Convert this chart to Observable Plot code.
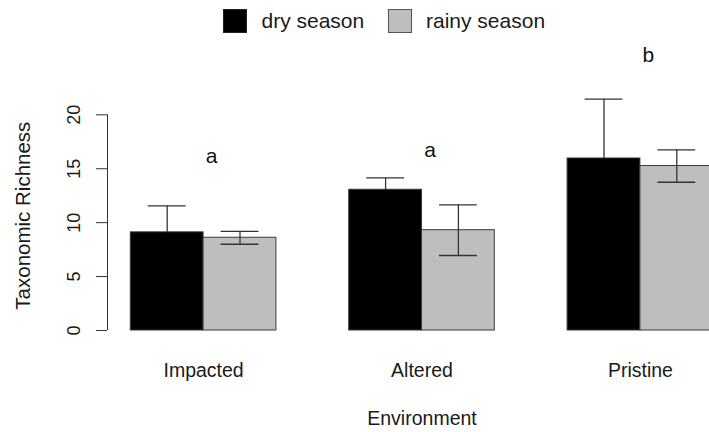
<!DOCTYPE html>
<html><head><meta charset="utf-8">
<script src="https://cdn.jsdelivr.net/npm/d3@7"></script>
<script src="https://cdn.jsdelivr.net/npm/@observablehq/plot@0.6"></script>
<style>
html,body{margin:0;padding:0;background:#fff;overflow:hidden;}
#wrap{width:709px;height:432px;overflow:hidden;position:relative;font-family:"Liberation Sans",Arial,sans-serif;color:#1a1a1a;}
#legend{position:relative;height:44px;}
.sw{position:absolute;top:9px;width:24px;height:24px;box-sizing:border-box;}
.lt{position:absolute;top:9px;font-size:21px;line-height:normal;white-space:nowrap;}
#chart{width:736px;}
#chart svg{display:block;max-width:none !important;width:736px;height:388px;}
</style></head><body>
<div id="wrap"><div id="legend"></div><div id="chart"></div></div>
<script>
// ---- data ----
const environments = ["Impacted", "Altered", "Pristine"];
const seasons = ["dry season", "rainy season"];
const dryMeans = [9.1, 13.05, 15.95];
const dryErr = [2.45, 1.1, 5.5];
const rainyMeans = [8.6, 9.3, 15.25];
const rainyErr = [0.6, 2.35, 1.5];
const groupLetters = ["a", "a", "b"];
const letterHeights = [16.2, 16.7, 25.5];
const yTicks = [0, 5, 10, 15, 20];
const yTitle = "Taxonomic Richness";
const xTitle = "Environment";

// ---- styling / layout ----
const seasonFill = ["#000000", "#bebebe"];
const xLim = [0.68, 9.32];           // R barplot plot region (bars at 1..9, 4% extension)
const capHalf = 0.26;

// R barplot(beside=TRUE, space=c(0,1)) layout: each bar is one unit wide, one unit gap between groups
const rows = [];
environments.forEach((env, i) => {
  [dryMeans, rainyMeans].forEach((means, j) => {
    const x1 = 3 * i + 1 + j;
    rows.push({env, season: seasons[j], x1, x2: x1 + 1, mid: x1 + 0.5,
               mean: means[i], err: (j === 0 ? dryErr : rainyErr)[i]});
  });
});
const groupCenters = environments.map((_, i) => 3 * i + 2);
const letterRows = environments.map((env, i) => ({x: groupCenters[i], y: letterHeights[i], t: groupLetters[i]}));
const isDry = d => d.season === seasons[0];
const isRainy = d => d.season === seasons[1];

// legend
const legend = document.getElementById("legend");
legend.innerHTML =
  `<div class="sw" style="left:222.5px;background:${seasonFill[0]};border:1px solid #222"></div>` +
  `<div class="lt" style="left:261.5px">${seasons[0]}</div>` +
  `<div class="sw" style="left:388px;background:${seasonFill[1]};border:1px solid #555"></div>` +
  `<div class="lt" style="left:426px">${seasons[1]}</div>`;

const chart = Plot.plot({
  width: 736,
  height: 388,
  marginLeft: 107,
  marginRight: 0,
  marginTop: 70.3,
  marginBottom: 102,
  style: {fontFamily: "'Liberation Sans', Arial, sans-serif", color: "#1a1a1a", background: "white", maxWidth: "none"},
  x: {domain: xLim},
  y: {domain: [yTicks[0], yTicks[yTicks.length - 1]]},
  color: {domain: seasons, range: seasonFill},
  marks: [
    Plot.rectY(rows, {x1: "x1", x2: "x2", y1: 0, y2: "mean", fill: "season", stroke: "#3a3a3a", strokeWidth: 1}),
    // error bars (upper)
    Plot.ruleX(rows, {x: "mid", y1: "mean", y2: d => d.mean + d.err, stroke: "#333", strokeWidth: 1.3}),
    Plot.ruleY(rows, {y: d => d.mean + d.err, x1: d => d.mid - capHalf, x2: d => d.mid + capHalf, stroke: "#333", strokeWidth: 1.3}),
    // error bars (lower) — on dark bars drawn in black
    Plot.ruleX(rows, {filter: isRainy, x: "mid", y1: d => d.mean - d.err, y2: "mean", stroke: "#333", strokeWidth: 1.3}),
    Plot.ruleY(rows, {filter: isRainy, y: d => d.mean - d.err, x1: d => d.mid - capHalf, x2: d => d.mid + capHalf, stroke: "#333", strokeWidth: 1.6}),
    Plot.ruleX(rows, {filter: isDry, x: "mid", y1: d => d.mean - d.err, y2: "mean", stroke: "#000", strokeWidth: 1.3}),
    // significance letters
    Plot.text(letterRows, {x: "x", y: "y", text: "t", dx: 8, fontSize: 21, fill: "#111"}),
    // y axis (R style)
    Plot.ruleX([xLim[0]], {y1: yTicks[0], y2: yTicks[yTicks.length - 1], stroke: "#333"}),
    Plot.axisY({ticks: yTicks, tickSize: 11, tickRotate: -90, tickPadding: 17, fontSize: 18, stroke: "#333", label: null}),
    Plot.text([yTitle], {frameAnchor: "left", textAnchor: "middle", rotate: -90, dx: -84, dy: -7, fontSize: 20.5, fill: "#1a1a1a"}),
    Plot.axisX({ticks: groupCenters, tickFormat: d => environments[groupCenters.indexOf(d)], tickSize: 0,
                tickPadding: 33, fontSize: 19.5, label: null}),
    Plot.text([xTitle], {frameAnchor: "bottom", dy: 94, fontSize: 19.5, fill: "#1a1a1a"})
  ]
});
document.getElementById("chart").appendChild(chart);
</script>
</body></html>
